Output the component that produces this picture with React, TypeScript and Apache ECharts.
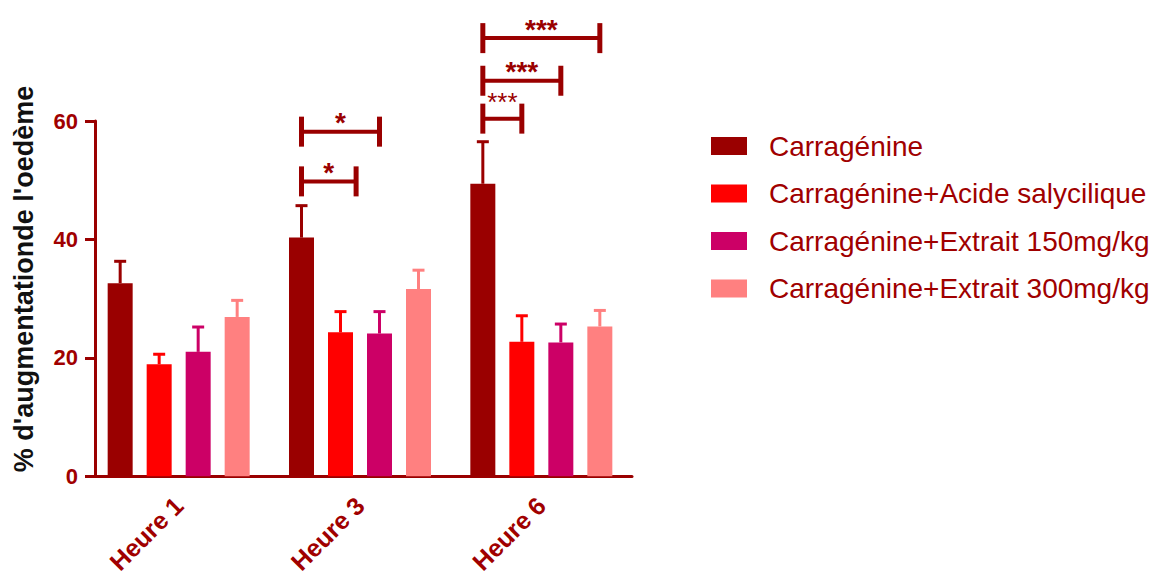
import React, { useEffect, useRef } from 'react';
import * as echarts from 'echarts';

// ---- data ----
const categories = ['Heure 1', 'Heure 3', 'Heure 6'];
const seriesNames = [
  'Carragénine',
  'Carragénine+Acide salycilique',
  'Carragénine+Extrait 150mg/kg',
  'Carragénine+Extrait 300mg/kg',
];
const carrageenan = [32.6, 40.3, 49.4];
const acideSalicylique = [18.9, 24.3, 22.7];
const extrait150 = [21.0, 24.1, 22.6];
const extrait300 = [26.9, 31.6, 25.3];
const carrageenanErr = [3.7, 5.4, 7.1];
const acideSalicyliqueErr = [1.7, 3.5, 4.4];
const extrait150Err = [4.2, 3.7, 3.1];
const extrait300Err = [2.8, 3.2, 2.7];
const yMin = 0;
const yMax = 60;
const yStep = 20;

// significance comparisons: category, from bar, to bar, bracket level (axis units), label
const sigCategory = [1, 1, 2, 2, 2];
const sigFrom = [0, 0, 0, 0, 0];
const sigTo = [2, 1.4, 3, 2, 1];
const sigLevel = [58.2, 49.8, 74.0, 66.8, 60.4];
const sigLabel = ['*', '*', '***', '***', '***'];

// ---- styles ----
const colors = ['#9a0000', '#ff0000', '#cc0066', '#ff8080'];
const textColor = '#a00000';
const FONT = '"Liberation Sans", Arial, sans-serif';
const BAR_W = 25;
const BAR_STEP = 39; // bar width + gap
const sigSmall = [false, false, false, false, true];

const means = [carrageenan, acideSalicylique, extrait150, extrait300];
const errs = [carrageenanErr, acideSalicyliqueErr, extrait150Err, extrait300Err];

export default function App() {
  const ref = useRef<HTMLDivElement>(null);
  useEffect(() => {
    if (!ref.current) return;
    const chart = echarts.init(ref.current, undefined, { renderer: 'svg' });

    const errData: any[] = [];
    means.forEach((arr, s) => {
      arr.forEach((m, c) => {
        errData.push([c, m + errs[s][c], s, m]);
      });
    });
    const sigData = sigCategory.map((c, i) => [c, sigLevel[i], i]);

    const option: any = {
      animation: false,
      backgroundColor: '#ffffff',
      grid: { left: 88, right: 538, top: 121, bottom: 99, containLabel: false },
      legend: {
        orient: 'vertical',
        left: 711,
        top: 131,
        padding: 0,
        icon: 'rect',
        itemWidth: 36,
        itemHeight: 18,
        itemGap: 17.5,
        data: seriesNames,
        textStyle: {
          fontSize: 28,
          color: textColor,
          fontFamily: FONT,
          lineHeight: 30,
          padding: [0, 0, 0, 17],
        },
      },
      xAxis: {
        type: 'category',
        data: categories,
        axisLine: { lineStyle: { color: colors[0], width: 3 } },
        axisTick: { alignWithLabel: true, length: 8, lineStyle: { color: colors[0], width: 3 } },
        axisLabel: {
          rotate: 45,
          fontSize: 25,
          fontWeight: 'bold',
          color: textColor,
          fontFamily: FONT,
          margin: 25,
        },
        splitLine: { show: false },
      },
      yAxis: {
        type: 'value',
        min: yMin,
        max: yMax,
        interval: yStep,
        offset: -7,
        axisLine: { show: true, lineStyle: { color: colors[0], width: 3 } },
        axisTick: { show: true, length: 10, lineStyle: { color: colors[0], width: 3 } },
        axisLabel: {
          fontSize: 22,
          fontWeight: 'bold',
          color: textColor,
          fontFamily: FONT,
          margin: 17,
        },
        splitLine: { show: false },
      },
      graphic: [
        {
          type: 'text',
          x: 24,
          y: 279,
          rotation: Math.PI / 2,
          style: {
            text: "% d'augmentationde l'oedème",
            font: `bold 27px ${FONT}`,
            fill: '#111111',
            align: 'center',
            verticalAlign: 'middle',
          },
        },
      ],
      series: [
        ...seriesNames.map((name, s) => ({
          type: 'bar',
          name,
          data: means[s],
          barWidth: BAR_W,
          barGap: '56%',
          itemStyle: { color: colors[s] },
        })),
        {
          type: 'custom',
          name: 'errors',
          data: errData,
          encode: { x: 0, y: 1 },
          z: 3,
          renderItem: (params: any, api: any) => {
            const c = api.value(0);
            const top = api.coord([c, api.value(1)]);
            const base = api.coord([c, api.value(3)]);
            const s = api.value(2);
            const x = top[0] + (s - 1.5) * BAR_STEP;
            const col = colors[s];
            return {
              type: 'group',
              children: [
                { type: 'line', shape: { x1: x, y1: base[1], x2: x, y2: top[1] }, style: { stroke: col, lineWidth: 3 } },
                { type: 'line', shape: { x1: x - 6, y1: top[1], x2: x + 6, y2: top[1] }, style: { stroke: col, lineWidth: 3 } },
              ],
            };
          },
        },
        {
          type: 'custom',
          name: 'significance',
          data: sigData,
          encode: { x: 0, y: 1 },
          clip: false,
          z: 4,
          renderItem: (params: any, api: any) => {
            const i = params.dataIndex;
            const c = api.coord([api.value(0), api.value(1)]);
            const x1 = c[0] + (sigFrom[i] - 1.5) * BAR_STEP;
            const x2 = c[0] + (sigTo[i] - 1.5) * BAR_STEP;
            const y = c[1];
            const small = sigSmall[i];
            const st = { stroke: colors[0], lineWidth: 4 };
            return {
              type: 'group',
              children: [
                { type: 'line', shape: { x1, y1: y, x2, y2: y }, style: st },
                { type: 'line', shape: { x1, y1: y - 15, x2: x1, y2: y + 15 }, style: { stroke: colors[0], lineWidth: 5 } },
                { type: 'line', shape: { x1: x2, y1: y - 15, x2, y2: y + 15 }, style: { stroke: colors[0], lineWidth: 5 } },
                {
                  type: 'text',
                  x: (x1 + x2) / 2,
                  y: small ? y - 17 : y - 9,
                  style: {
                    text: sigLabel[i],
                    font: small ? `26px ${FONT}` : `bold 28px ${FONT}`,
                    fill: colors[0],
                    align: 'center',
                    verticalAlign: 'middle',
                  },
                },
              ],
            };
          },
        },
      ],
    };
    chart.setOption(option);
    return () => chart.dispose();
  }, []);
  return (
    <div
      ref={ref}
      style={{ position: 'fixed', left: 0, top: 0, width: 1170, height: 577, background: '#fff' }}
    />
  );
}
